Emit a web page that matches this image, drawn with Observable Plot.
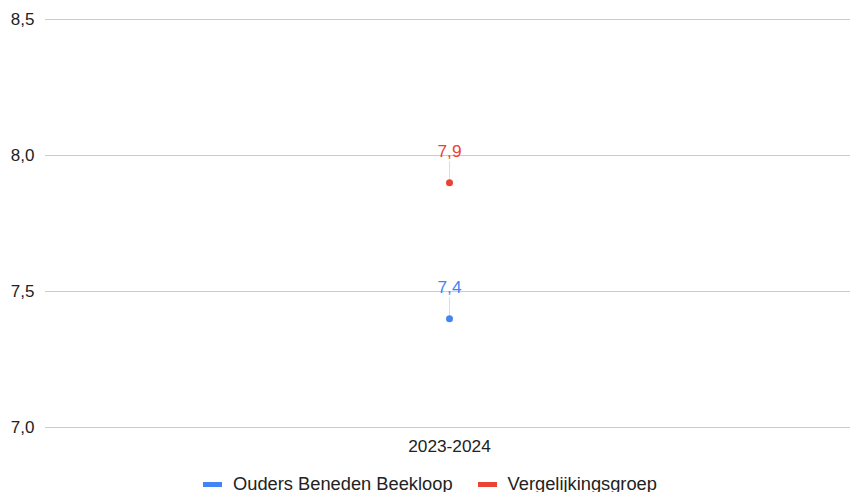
<!DOCTYPE html>
<html>
<head>
<meta charset="utf-8">
<script src="https://cdn.jsdelivr.net/npm/d3@7"></script>
<script src="https://cdn.jsdelivr.net/npm/@observablehq/plot@0.6"></script>
<style>
  html, body { margin: 0; padding: 0; background: #fff; overflow: hidden; }
  body { width: 850px; height: 492px; font-family: "Liberation Sans", Arial, sans-serif; }
  #legend { display: flex; justify-content: center; gap: 25px; padding-top: 9px; font-size: 18.3px; line-height: 20px; color: #222; margin-left: 10px; }
  .item { display: flex; align-items: center; }
  .sw { width: 19px; height: 5px; margin-right: 11px; }
</style>
</head>
<body>
<div id="chart"></div>
<div id="legend"></div>
<script>
const categories = ["2023-2024"];
const seriesNames = ["Ouders Beneden Beekloop", "Vergelijkingsgroep"];
const seriesColors = ["#4285F4", "#EA4335"];
const values = {"Ouders Beneden Beekloop": [7.4], "Vergelijkingsgroep": [7.9]};
const yTicks = [7.0, 7.5, 8.0, 8.5];

const data = [];
seriesNames.forEach(s => values[s].forEach((v, i) => data.push({series: s, cat: categories[i], value: v})));
const fmt = v => d3.format(".1f")(v).replace(".", ",");

const chart = Plot.plot({
  width: 850,
  height: 465,
  marginTop: 19,
  marginBottom: 38,
  marginLeft: 47,
  marginRight: 0,
  style: {fontFamily: "Liberation Sans, Arial, sans-serif", fontSize: "17px", color: "#222"},
  x: {type: "point", domain: categories, label: null, axis: null},
  y: {domain: [7.0, 8.5], label: null, axis: null},
  color: {domain: seriesNames, range: seriesColors},
  marks: [
    Plot.ruleY(yTicks, {stroke: "#ccc", strokeWidth: 1, insetLeft: -2}),
    Plot.axisY(yTicks, {tickSize: 0, tickPadding: 13, tickFormat: fmt, fontSize: 17, fill: "#222", label: null}),
    Plot.axisX({tickSize: 0, tickPadding: 12, fontSize: 17.3, fill: "#222", label: null}),
    Plot.ruleX(data, {x: "cat", y1: "value", y2: "value", insetTop: -21, insetBottom: 3, stroke: "#ddd", strokeWidth: 1}),
    Plot.dot(data, {x: "cat", y: "value", fill: "series", r: 3.5, stroke: null}),
    Plot.text(data, {x: "cat", y: "value", text: d => fmt(d.value), fill: "series", dy: -31, fontSize: 17.3})
  ]
});
document.getElementById("chart").appendChild(chart);

const legend = document.getElementById("legend");
seriesNames.forEach((s, i) => {
  const it = document.createElement("div");
  it.className = "item";
  const sw = document.createElement("span");
  sw.className = "sw";
  sw.style.background = seriesColors[i];
  const t = document.createElement("span");
  t.textContent = s;
  it.appendChild(sw); it.appendChild(t);
  legend.appendChild(it);
});
</script>
</body>
</html>
